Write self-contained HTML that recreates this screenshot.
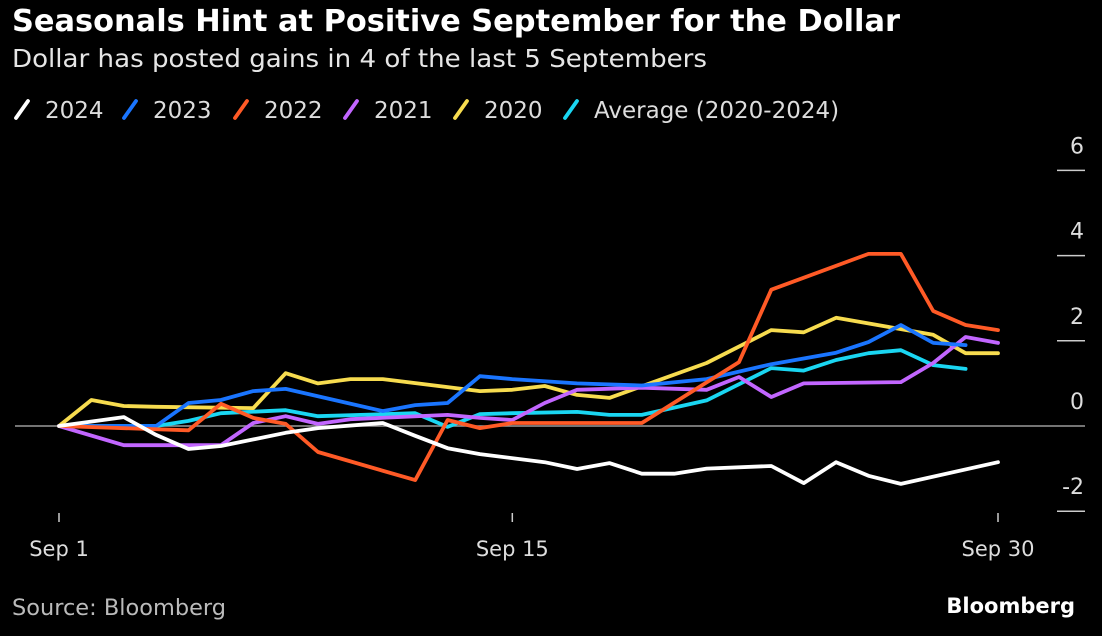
<!DOCTYPE html>
<html><head><meta charset="utf-8"><style>
html,body{margin:0;padding:0;background:#000;}
body{width:1102px;height:636px;overflow:hidden;position:relative;font-family:"Liberation Sans","DejaVu Sans",sans-serif;}
</style></head><body>
<svg id="chart" width="1102" height="636" xmlns="http://www.w3.org/2000/svg" style="position:absolute;left:0;top:0">
<rect width="1102" height="636" fill="#000"/>
<text x="12" y="31" fill="#fff" font-size="30" font-weight="bold" font-family="DejaVu Sans, sans-serif" textLength="888" lengthAdjust="spacingAndGlyphs">Seasonals Hint at Positive September for the Dollar</text>
<text x="12" y="67" fill="#e6e6e6" font-size="25" font-family="DejaVu Sans, sans-serif" textLength="695" lengthAdjust="spacingAndGlyphs">Dollar has posted gains in 4 of the last 5 Septembers</text>
<g id="legend"></g>
<g id="axes"></g>
<g id="series"></g>
<text x="12" y="615" fill="#bbb" font-size="22" font-family="DejaVu Sans, sans-serif" textLength="214" lengthAdjust="spacingAndGlyphs">Source: Bloomberg</text>
<text x="1075" y="613" fill="#fff" font-size="21" font-weight="bold" text-anchor="end" font-family="DejaVu Sans, sans-serif">Bloomberg</text>
</svg>
<script>
const yTicks = [6, 4, 2, 0, -2];
const xTickDays = [0, 14, 29];
const xTickLabels = ["Sep 1", "Sep 15", "Sep 30"];
const seriesNames = ["2024", "2023", "2022", "2021", "2020", "Average (2020-2024)"];
const days2024 = [0,2,3,4,5,7,8,10,11,12,13,15,16,17,18,19,20,22,23,24,25,26,29];
const vals2024 = [0,0.21,-0.21,-0.54,-0.47,-0.16,-0.05,0.07,-0.23,-0.52,-0.66,-0.85,-1.01,-0.87,-1.12,-1.12,-1.0,-0.94,-1.34,-0.85,-1.17,-1.36,-0.85];
const days2023 = [0,3,4,5,6,7,10,11,12,13,14,16,18,20,22,24,25,26,27,28];
const vals2023 = [0,0,0.54,0.61,0.82,0.87,0.35,0.49,0.54,1.17,1.1,1.0,0.95,1.1,1.45,1.72,1.97,2.37,1.95,1.9];
const days2022 = [0,4,5,6,7,8,11,12,13,14,18,21,22,25,26,27,28,29];
const vals2022 = [0,-0.1,0.52,0.19,0.05,-0.61,-1.27,0.14,-0.05,0.07,0.07,1.5,3.2,4.04,4.04,2.7,2.37,2.25];
const days2021 = [0,2,5,6,7,8,9,12,13,14,15,16,18,20,21,22,23,26,27,28,29];
const vals2021 = [0,-0.45,-0.45,0.07,0.23,0.05,0.16,0.26,0.19,0.14,0.54,0.85,0.9,0.85,1.15,0.68,1.0,1.03,1.48,2.09,1.95];
const days2020 = [0,1,2,3,6,7,8,9,10,13,14,15,16,17,20,22,23,24,27,28,29];
const vals2020 = [0,0.61,0.47,0.45,0.42,1.24,1.0,1.1,1.1,0.82,0.85,0.94,0.73,0.66,1.48,2.25,2.2,2.54,2.14,1.71,1.71];
const daysAvg = [0,3,4,5,7,8,11,12,13,14,16,17,18,20,22,23,24,25,26,27,28];
const valsAvg = [0,0,0.12,0.3,0.37,0.23,0.3,-0.02,0.28,0.3,0.33,0.26,0.26,0.6,1.36,1.3,1.55,1.71,1.78,1.43,1.34];

const NS = "http://www.w3.org/2000/svg";
function xScale(d){ return 59 + d * (998 - 59) / 29; }
function yScale(v){ return 426 - v * 42.6; }
function mk(tag, attrs, parent){ const e = document.createElementNS(NS, tag); for (const k in attrs) e.setAttribute(k, attrs[k]); parent.appendChild(e); return e; }

const axes = document.getElementById('axes');
const zl = mk('line', {x1: 15, x2: 1085, y1: yScale(0), y2: yScale(0), stroke: '#9a9a9a', 'stroke-width': 1.5}, axes);


yTicks.forEach(function(t){
  const y = yScale(t);
  if (t !== 0) {
    const tl = mk('line', {x1: 1057, x2: 1085, y1: y, y2: y, stroke: '#ccc', 'stroke-width': 1.5}, axes);
    
    
  }
  const lb = mk('text', {x: 1084, y: y - 17, fill: '#ddd', 'font-size': 22, 'text-anchor': 'end', 'font-family': 'DejaVu Sans, sans-serif'}, axes);
  lb.textContent = String(t);
  
  
});
xTickDays.forEach(function(d, i){
  const x = xScale(d);
  const tk = mk('line', {x1: x, x2: x, y1: 513, y2: 522, stroke: '#ccc', 'stroke-width': 1.5}, axes);
  
  
  const lb = mk('text', {x: x, y: 556, fill: '#ddd', 'font-size': 21, 'text-anchor': 'middle', 'font-family': 'DejaVu Sans, sans-serif'}, axes);
  lb.textContent = xTickLabels[i];
  
  
});

const colors = ['#ffffff', '#1a75ff', '#ff5a26', '#c266ff', '#f7dc4f', '#1ad6f2'];
const allDays = [days2024, days2023, days2022, days2021, days2020, daysAvg];
const allVals = [vals2024, vals2023, vals2022, vals2021, vals2020, valsAvg];
const sg = document.getElementById('series');
const order = [5, 4, 3, 1, 2, 0];
order.forEach(function(i){
  const pts = allDays[i].map(function(d, j){ return xScale(d).toFixed(1) + ',' + yScale(allVals[i][j]).toFixed(1); }).join(' ');
  const pl = mk('polyline', {points: pts, fill: 'none', stroke: colors[i], 'stroke-width': 3.8, 'stroke-linejoin': 'round', 'stroke-linecap': 'round'}, sg);
  
  
});

const lg = document.getElementById('legend');
const legendX = [14, 122, 233, 343, 453, 563];
seriesNames.forEach(function(n, i){
  const x = legendX[i];
  const ic = mk('line', {x1: x + 2, y1: 118, x2: x + 14, y2: 101, stroke: colors[i], 'stroke-width': 3.8, 'stroke-linecap': 'round'}, lg);
  
  
  const t = mk('text', {x: x + 31, y: 118, fill: '#ddd', 'font-size': 23, 'font-family': 'DejaVu Sans, sans-serif'}, lg);
  t.textContent = n;
  
  
});
</script>
</body></html>
